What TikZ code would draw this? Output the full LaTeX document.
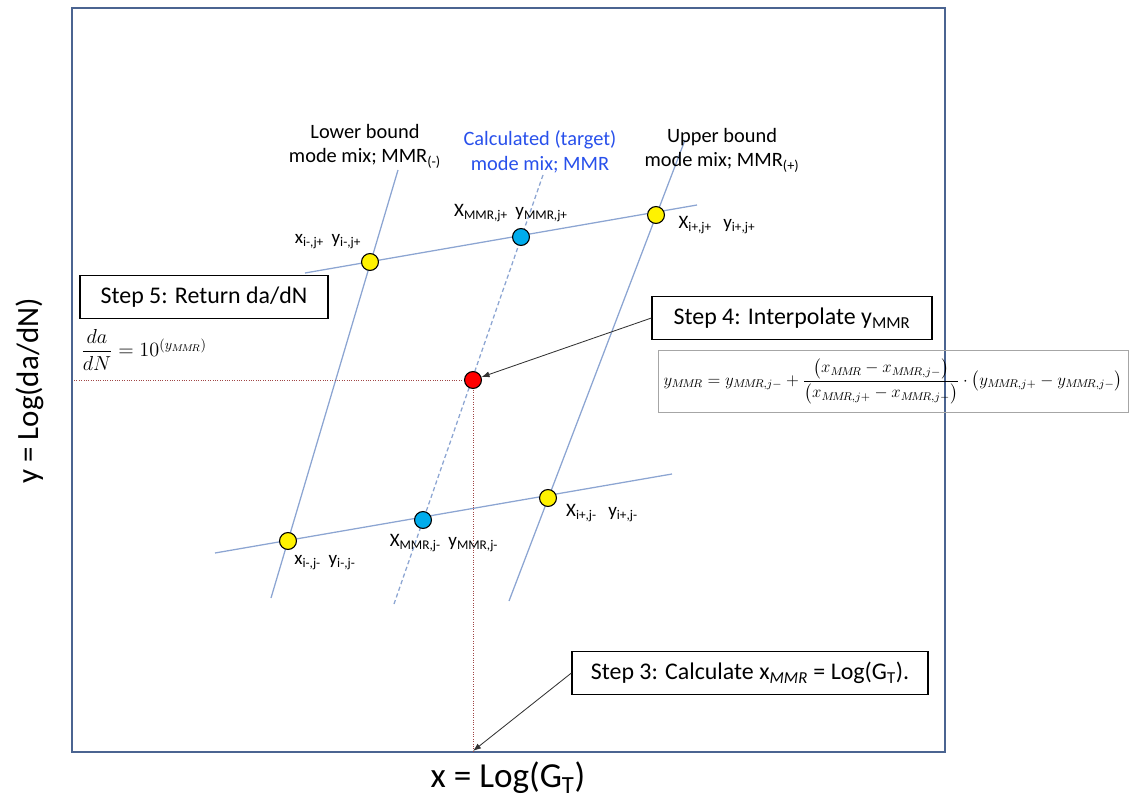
\documentclass[tikz,border=0pt]{standalone}
\usepackage{amsmath}
\usepackage{fontspec}
\setmainfont{Carlito}
\usetikzlibrary{arrows.meta}
\definecolor{gridblue}{RGB}{140,165,210}
\definecolor{framebl}{RGB}{75,100,145}
\definecolor{dotblue}{RGB}{0,172,236}
\definecolor{guidered}{RGB}{160,70,70}
\definecolor{calcblue}{RGB}{40,80,235}
\newcommand{\mmr}{M\!M\!R}

\begin{document}
\begin{tikzpicture}[>=Latex,x=0.025cm,y=-0.025cm,
  gline/.style={gridblue,line width=0.9pt},
  tline/.style={gridblue,line width=0.9pt,densely dashed},
  guide/.style={guidered,densely dotted,line width=0.7pt},
  pt/.style={circle,draw=black,line width=0.8pt,minimum size=12pt,inner sep=0pt},
  stepbox/.style={draw,line width=0.8pt,minimum height=1.07cm,font=\fontsize{17}{20}\selectfont},
  lbl/.style={align=center,font=\fontsize{14.5}{17.5}\selectfont},
  ptlbl/.style={font=\fontsize{13.5}{16}\selectfont,inner sep=0pt}]
\useasboundingbox (0,0) rectangle (1136,800);
\draw[framebl,line width=1pt] (72,8) rectangle (945,752);

% mode-mix lines and da/dN lines
\coordinate (lmt) at (398,170); \coordinate (lmb) at (271,598);
\coordinate (umt) at (685,140); \coordinate (umb) at (509,601);
\coordinate (tmt) at (543,175); \coordinate (tmb) at (394,604);
\coordinate (jpl) at (305,273); \coordinate (jpr) at (697,205);
\coordinate (jml) at (215,553); \coordinate (jmr) at (672,474);
\draw[gline] (lmt) -- (lmb);
\draw[gline] (umt) -- (umb);
\draw[tline] (tmt) -- (tmb);
\draw[gline] (jpl) -- (jpr);
\draw[gline] (jml) -- (jmr);

% guides
\coordinate (gy) at (74,380);
\coordinate (gx) at (473,751);
\draw[guide] (gy) -- (473,380) -- (gx);

% points
\node[pt,fill=yellow] (lp) at (370,262) {};
\node[pt,fill=dotblue] (tp) at (521,237) {};
\node[pt,fill=yellow] (up) at (656,215) {};
\node[pt,fill=yellow] (lm) at (288,541) {};
\node[pt,fill=dotblue] (tm) at (423,520) {};
\node[pt,fill=yellow] (um) at (548,498) {};
\node[pt,fill=red] (rd) at (473,380) {};

% point labels
\node[ptlbl] (lplbl) at (328,242) {x\textsubscript{i-,j+}\hspace{0.4em}y\textsubscript{i-,j+}};
\node[ptlbl] (tplbl) at (511,213) {X\textsubscript{MMR,j+}\hspace{0.4em}y\textsubscript{MMR,j+}};
\node[ptlbl] (uplbl) at (717,225) {X\textsubscript{i+,j+}\hspace{0.6em}y\textsubscript{i+,j+}};
\node[ptlbl] (lmlbl) at (325,563) {x\textsubscript{i-,j-}\hspace{0.4em}y\textsubscript{i-,j-}};
\node[ptlbl] (tmlbl) at (444,543) {X\textsubscript{MMR,j-}\hspace{0.4em}y\textsubscript{MMR,j-}};
\node[ptlbl] (umlbl) at (602,513) {X\textsubscript{i+,j-}\hspace{0.6em}y\textsubscript{i+,j-}};

% line labels
\node[lbl] (lowl) at (365,146) {Lower bound\\mode mix; MMR\textsubscript{(-)}};
\node[lbl,text=calcblue] (calcl) at (540,152) {Calculated (target)\\mode mix; MMR};
\node[lbl] (uppl) at (722,150) {Upper bound\\mode mix; MMR\textsubscript{(+)}};

% steps
\node[stepbox,minimum width=6.2cm] (s5) at (204,297) {Step 5: Return da/dN};
\node[stepbox,minimum width=7cm] (s4) at (792,318) {Step 4: Interpolate y\textsubscript{MMR}};
\node[stepbox,minimum width=8.9cm] (s3) at (750,673) {Step 3: Calculate x\textsubscript{\itshape MMR} = Log(G\textsubscript{T}).};
\draw[->,black!80,line width=0.6pt] (s4.west) -- (rd);
\draw[->,black!80,line width=0.6pt] (s3.west) -- (gx);

% formulas
\node[font=\fontsize{14}{16}\selectfont] (dadn) at (144,350) {$\dfrac{da}{dN}=10^{(y_{\mmr})}$};
\node[draw=black!35,line width=0.6pt,minimum width=11.75cm,minimum height=1.55cm,inner sep=1pt,font=\fontsize{12}{14}\selectfont] (interp) at (893,381)
  {$y_{\mmr}=y_{\mmr,j-}+\dfrac{\bigl(x_{\mmr}-x_{\mmr,j-}\bigr)}{\bigl(x_{\mmr,j+}-x_{\mmr,j-}\bigr)}\cdot\bigl(y_{\mmr,j+}-y_{\mmr,j-}\bigr)$};

% axes
\node[font=\fontsize{25}{28}\selectfont] (xax) at (508,778) {x = Log(G\textsubscript{T})};
\node[font=\fontsize{22}{26}\selectfont,rotate=90] (yax) at (30,391) {y = Log(da/dN)};
\end{tikzpicture}
\end{document}
